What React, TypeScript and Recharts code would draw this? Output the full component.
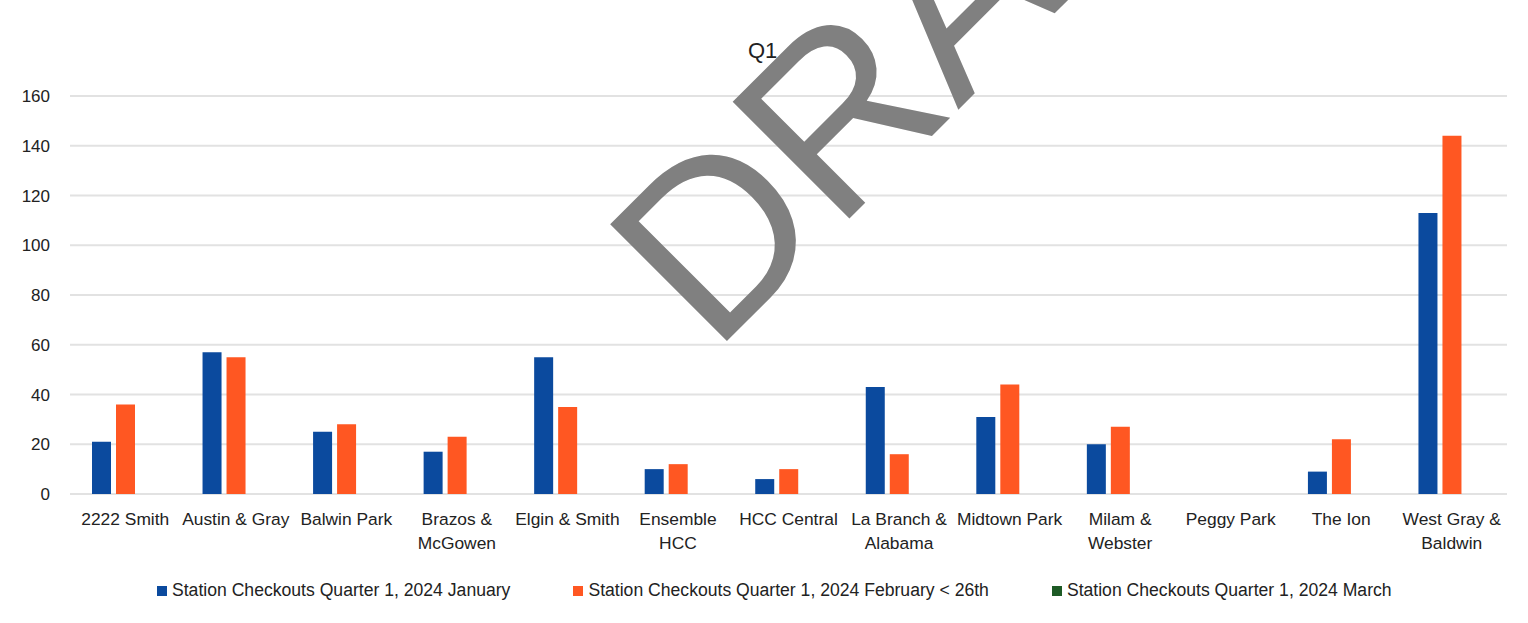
import React from "react"
import { BarChart, Bar, XAxis, YAxis, CartesianGrid, Legend } from "recharts"

// station names ("\n" marks where the label wraps)
const stations = [
  "2222 Smith",
  "Austin & Gray",
  "Balwin Park",
  "Brazos &\nMcGowen",
  "Elgin & Smith",
  "Ensemble\nHCC",
  "HCC Central",
  "La Branch &\nAlabama",
  "Midtown Park",
  "Milam &\nWebster",
  "Peggy Park",
  "The Ion",
  "West Gray &\nBaldwin",
]

const january = [21, 57, 25, 17, 55, 10, 6, 43, 31, 20, 0, 9, 113]
const february = [36, 55, 28, 23, 35, 12, 10, 16, 44, 27, 0, 22, 144]
const march = [0, 0, 0, 0, 0, 0, 0, 0, 0, 0, 0, 0, 0]

const yTicks = [0, 20, 40, 60, 80, 100, 120, 140, 160]

const SERIES = [
  { key: "jan", name: "Station Checkouts Quarter 1, 2024 January", color: "#0b4a9e" },
  { key: "feb", name: "Station Checkouts Quarter 1, 2024 February < 26th", color: "#ff5722" },
  { key: "mar", name: "Station Checkouts Quarter 1, 2024 March", color: "#1d5a25" },
]

const FONT = "'Liberation Sans', Arial, sans-serif"

const data = stations.map((name, i) => ({
  name,
  jan: january[i],
  feb: february[i],
  mar: march[i],
}))

const StationTick = ({ x, y, payload }: { x: number; y: number; payload: { value: string } }) => {
  const lines = String(payload.value).split("\n")
  return (
    <text x={x} y={y} textAnchor="middle" fill="#222" fontSize={17.4} fontFamily={FONT}>
      {lines.map((line, i) => (
        <tspan key={i} x={x} dy={i === 0 ? 23 : 24}>
          {line}
        </tspan>
      ))}
    </text>
  )
}

const renderLegend = () => (
  <div style={{ display: "flex", paddingLeft: 157, fontFamily: FONT, fontSize: 17.6, color: "#222" }}>
    {SERIES.map((s) => (
      <div key={s.key} style={{ display: "flex", alignItems: "center", marginRight: 63 }}>
        <span style={{ width: 10, height: 10, background: s.color, marginRight: 5, display: "inline-block" }} />
        <span>{s.name}</span>
      </div>
    ))}
  </div>
)

export default function App() {
  return (
    <div style={{ position: "relative", width: 1528, height: 623, background: "#fff" }}>
      <style>{`body{margin:0}`}</style>
      <BarChart
        width={1528}
        height={623}
        data={data}
        margin={{ top: 96, right: 21, bottom: 99, left: 0 }}
        barSize={19}
        barGap={5}
      >
        <CartesianGrid vertical={false} stroke="#e2e2e2" strokeWidth={2} />
        <XAxis
          dataKey="name"
          height={30}
          interval={0}
          axisLine={false}
          tickLine={false}
          tick={StationTick}
        />
        <YAxis
          width={70}
          domain={[0, 160]}
          ticks={yTicks}
          axisLine={false}
          tickLine={false}
          tickMargin={14}
          tick={{ fill: "#222", fontSize: 17, fontFamily: FONT }}
        />
        <Legend
          layout="horizontal"
          verticalAlign="middle"
          content={renderLegend}
          wrapperStyle={{ top: 580, left: 0, width: 1528 }}
        />
        {SERIES.map((s) => (
          <Bar key={s.key} dataKey={s.key} name={s.name} fill={s.color} isAnimationActive={false} />
        ))}
      </BarChart>
      <svg
        width={1528}
        height={623}
        style={{ position: "absolute", left: 0, top: 0, pointerEvents: "none" }}
      >
        <text x={748} y={58} fontSize={22} fill="#222" fontFamily={FONT}>
          Q1
        </text>
        <text
          x={713}
          y={355}
          fontSize={240}
          fill="#808080"
          fontFamily={FONT}
          transform="rotate(-45 713 355)"
        >
          DRAFT
        </text>
      </svg>
    </div>
  )
}
